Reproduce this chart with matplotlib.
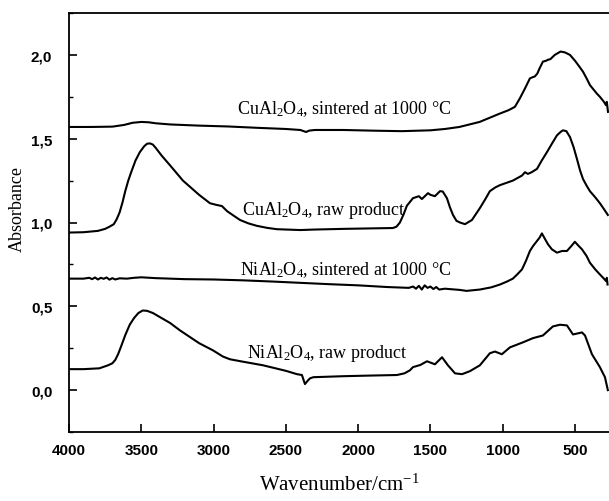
import numpy as np
import matplotlib
matplotlib.use("Agg")
import matplotlib.pyplot as plt

# ---------------------------------------------------------
# IR spectra (wavenumber, absorbance)
# ---------------------------------------------------------

cu_sint_wn = [4000, 3850, 3700, 3620, 3560, 3500, 3450, 3400, 3300, 3100, 2900, 2700,
              2500, 2400, 2360, 2340, 2300, 2100, 1900, 1700, 1500, 1400, 1300, 1230,
              1160, 1090, 1020, 960, 916, 882, 846, 812, 790, 777, 760, 745, 722, 700,
              690, 670, 640, 600, 570, 535, 500, 470, 445, 420, 397, 350, 328, 300, 286,
              280, 272]
cu_sint_abs = [1.57, 1.57, 1.572, 1.582, 1.595, 1.60, 1.598, 1.592, 1.585, 1.578, 1.573, 1.565,
               1.558, 1.552, 1.540, 1.548, 1.552, 1.552, 1.548, 1.545, 1.55, 1.558, 1.57, 1.585,
               1.60, 1.625, 1.65, 1.67, 1.69, 1.74, 1.80, 1.86, 1.868, 1.872, 1.89, 1.92, 1.96, 1.965,
               1.97, 1.975, 2.0, 2.02, 2.015, 2.0, 1.965, 1.93, 1.90, 1.86, 1.82, 1.77, 1.75, 1.72, 1.70,
               1.72, 1.66]

cu_raw_wn = [4000, 3900, 3800, 3750, 3720, 3690, 3670, 3650, 3630, 3610, 3590, 3570,
             3540, 3510, 3480, 3460, 3440, 3420, 3400, 3360, 3300, 3212, 3100, 3025,
             2980, 2942, 2907, 2860, 2817, 2760, 2700, 2630, 2562, 2400, 2300, 2100,
             1900, 1760, 1735, 1711, 1685, 1663, 1621, 1580, 1559, 1517, 1500, 1469,
             1434, 1415, 1386, 1365, 1344, 1320, 1296, 1261, 1213, 1158, 1120, 1089,
             1050, 1019, 930, 867, 846, 826, 800, 763, 730, 694, 660, 625, 600, 584,
             560, 535, 510, 487, 465, 445, 420, 397, 360, 328, 300, 273]
cu_raw_abs = [0.94, 0.942, 0.95, 0.962, 0.975, 0.99, 1.02, 1.06, 1.12, 1.19, 1.25, 1.30,
              1.37, 1.42, 1.455, 1.47, 1.472, 1.465, 1.445, 1.40, 1.34, 1.25, 1.165, 1.115,
              1.105, 1.098, 1.068, 1.04, 1.015, 0.995, 0.98, 0.968, 0.96, 0.955, 0.958, 0.962,
              0.965, 0.967, 0.975, 1.0, 1.05, 1.10, 1.145, 1.157, 1.14, 1.175, 1.165, 1.157,
              1.187, 1.185, 1.145, 1.09, 1.045, 1.01, 1.0, 0.99, 1.015, 1.086, 1.14, 1.187,
              1.21, 1.223, 1.25, 1.28, 1.30, 1.29, 1.30, 1.32, 1.37, 1.42, 1.47, 1.52, 1.54, 1.55,
              1.545, 1.51, 1.45, 1.38, 1.31, 1.26, 1.22, 1.187, 1.15, 1.115, 1.08, 1.045]

ni_sint_wn = [4000, 3900, 3860, 3840, 3820, 3800, 3780, 3760, 3740, 3720, 3700, 3680,
              3650, 3600, 3550, 3500, 3400, 3200, 3000, 2800, 2600, 2400, 2200, 2000,
              1800, 1650, 1620, 1600, 1580, 1560, 1540, 1520, 1500, 1480, 1460, 1440,
              1400, 1300, 1250, 1158, 1080, 1019, 972, 930, 900, 867, 840, 812, 790,
              763, 745, 729, 710, 687, 660, 625, 590, 556, 525, 501, 480, 452, 420, 397,
              360, 328, 300, 285, 280, 275]
ni_sint_abs = [0.665, 0.665, 0.670, 0.662, 0.672, 0.66, 0.670, 0.664, 0.672, 0.659, 0.668, 0.66,
               0.667, 0.665, 0.670, 0.673, 0.668, 0.662, 0.66, 0.655, 0.648, 0.64, 0.632, 0.625,
               0.615, 0.61, 0.618, 0.605, 0.622, 0.60, 0.625, 0.61, 0.618, 0.603, 0.615, 0.60,
               0.605, 0.598, 0.592, 0.60, 0.613, 0.63, 0.647, 0.665, 0.69, 0.72, 0.77, 0.83, 0.86,
               0.89, 0.91, 0.935, 0.905, 0.87, 0.84, 0.82, 0.83, 0.83, 0.86, 0.885, 0.865, 0.84, 0.80, 0.76,
               0.72, 0.69, 0.665, 0.65, 0.67, 0.63]

ni_raw_wn = [4000, 3900, 3790, 3730, 3700, 3680, 3660, 3640, 3610, 3580, 3550, 3520,
             3490, 3460, 3420, 3380, 3300, 3232, 3100, 3004, 2935, 2887, 2800, 2658,
             2500, 2423, 2389, 2368, 2345, 2333, 2310, 2100, 1900, 1732, 1680, 1642,
             1621, 1570, 1524, 1469, 1420, 1379, 1330, 1282, 1227, 1158, 1089, 1054,
             1006, 950, 860, 791, 722, 653, 604, 556, 514, 452, 431, 383, 328, 293, 273]
ni_raw_abs = [0.125, 0.125, 0.13, 0.148, 0.16, 0.18, 0.215, 0.26, 0.33, 0.39, 0.43, 0.46,
              0.475, 0.473, 0.46, 0.44, 0.40, 0.356, 0.28, 0.237, 0.20, 0.184, 0.17, 0.148,
              0.115, 0.095, 0.09, 0.036, 0.06, 0.07, 0.077, 0.083, 0.087, 0.09, 0.10, 0.118,
              0.137, 0.15, 0.172, 0.154, 0.196, 0.148, 0.10, 0.095, 0.113, 0.148, 0.22, 0.23,
              0.214, 0.255, 0.285, 0.31, 0.326, 0.38, 0.39, 0.386, 0.332, 0.344, 0.326, 0.214,
              0.137, 0.077, 0.0]

# label text and anchor (left x in wavenumber, centre y in absorbance)
labels = ["CuAl$_2$O$_4$, sintered at 1000 °C", "CuAl$_2$O$_4$, raw product",
          "NiAl$_2$O$_4$, sintered at 1000 °C", "NiAl$_2$O$_4$, raw product"]
label_x = [2838, 2804, 2817, 2769]
label_y = [1.68, 1.08, 0.72, 0.225]

xticks = [4000, 3500, 3000, 2500, 2000, 1500, 1000, 500]
yticks = [0.0, 0.5, 1.0, 1.5, 2.0]
yticklabels = ["0,0", "0,5", "1,0", "1,5", "2,0"]

# ---------------------------------------------------------
# Plot
# ---------------------------------------------------------

plt.rcParams["mathtext.fontset"] = "custom"
plt.rcParams["mathtext.rm"] = "Liberation Serif"
plt.rcParams["mathtext.it"] = "Liberation Serif:italic"

fig = plt.figure(figsize=(6.09, 5.02), dpi=100)
ax = fig.add_axes([69 / 609, 69 / 502, 540 / 609, 419 / 502])

for wn, a in [(cu_sint_wn, cu_sint_abs), (cu_raw_wn, cu_raw_abs),
              (ni_sint_wn, ni_sint_abs), (ni_raw_wn, ni_raw_abs)]:
    ax.plot(wn, a, color="black", linewidth=1.5)

for txt, x, y in zip(labels, label_x, label_y):
    ax.text(x, y, txt, fontsize=13, family="Liberation Serif", va="center", ha="left")

ax.set_xlim(4000, 265)
ax.set_ylim(-0.24, 2.25)

ax.set_xticks(xticks)
ax.set_xticklabels([str(t) for t in xticks])
ax.set_yticks(yticks)
ax.set_yticklabels(yticklabels)
ax.set_yticks(np.arange(-0.25, 2.3, 0.25), minor=True)

for lab in ax.get_xticklabels() + ax.get_yticklabels():
    lab.set_family("Liberation Sans")
    lab.set_fontweight("bold")
    lab.set_fontsize(11)

ax.tick_params(which="major", direction="in", length=6, width=1.2)
ax.tick_params(which="minor", direction="in", length=3, width=1.0)
ax.tick_params(axis="x", pad=8)
ax.tick_params(axis="y", pad=12)

ax.spines["right"].set_visible(False)
for s in ["left", "bottom", "top"]:
    ax.spines[s].set_linewidth(1.3)

ax.set_xlabel("Wavenumber/cm$^{-1}$", family="Liberation Serif", fontsize=15, labelpad=12)
ax.set_ylabel("Absorbance", family="Liberation Serif", fontsize=13)
ax.yaxis.set_label_coords(-0.08, 0.535)

fig.savefig("out.png", dpi=100)
